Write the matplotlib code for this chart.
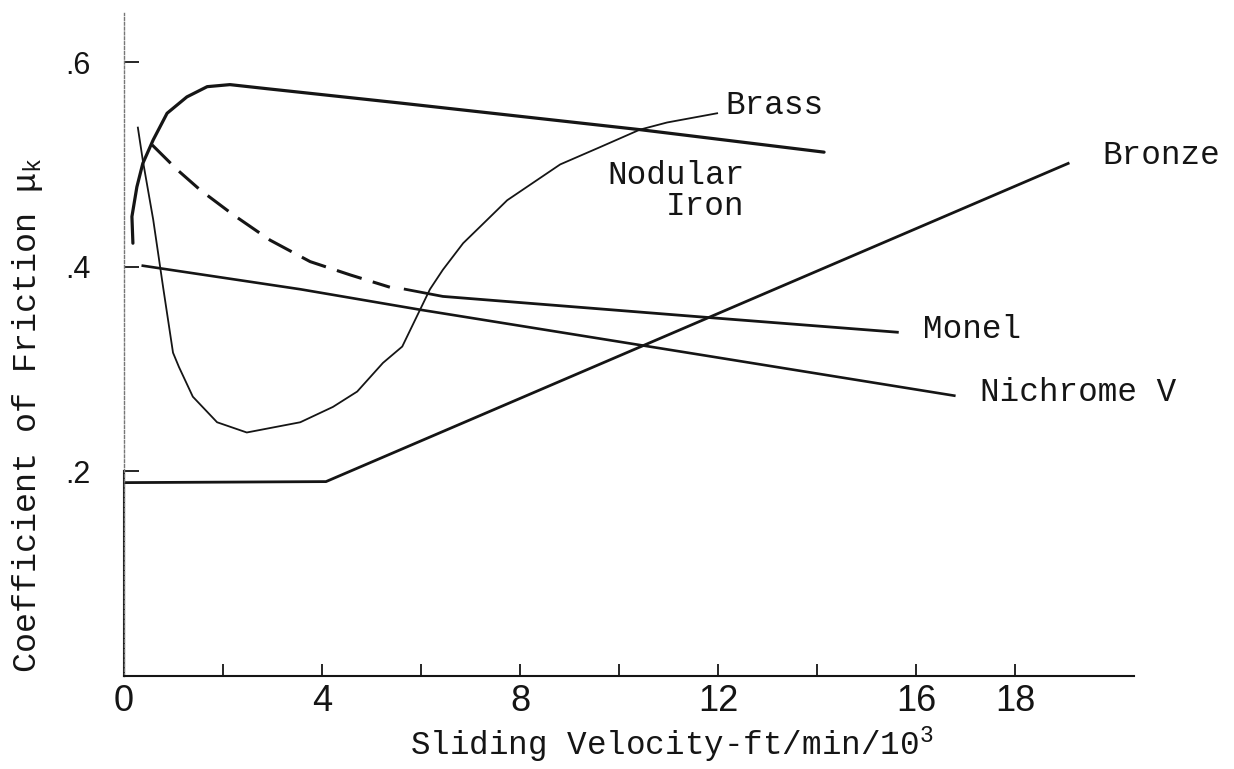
import matplotlib
matplotlib.use('Agg')
import matplotlib.pyplot as plt

# sliding velocity (ft/min / 1000) vs coefficient of friction
brass_x = [0.28, 0.38, 0.59, 0.79, 0.99, 1.11, 1.39, 1.88, 2.48, 3.56, 4.22, 4.71, 5.23,
           5.62, 5.98, 6.18, 6.44, 6.85, 7.19, 7.74, 8.81, 9.62, 10.42, 10.97, 11.98]
brass_y = [0.536, 0.504, 0.446, 0.380, 0.316, 0.302, 0.273, 0.248, 0.238, 0.248, 0.263, 0.278, 0.306,
           0.322, 0.358, 0.378, 0.397, 0.423, 0.439, 0.465, 0.500, 0.517, 0.534, 0.541, 0.550]

nodular_x = [0.18, 0.16, 0.26, 0.38, 0.59, 0.87, 1.27, 1.68, 2.14, 2.89, 5.58, 10.42, 14.14]
nodular_y = [0.423, 0.449, 0.478, 0.501, 0.524, 0.550, 0.566, 0.576, 0.578, 0.574, 0.560, 0.534, 0.512]

monel_dash_x = [0.57, 1.07, 1.54, 2.20, 2.95, 3.76, 4.57, 5.37]
monel_dash_y = [0.519, 0.495, 0.475, 0.451, 0.426, 0.405, 0.392, 0.380]
monel_x = [5.68, 6.44, 11.64, 15.62]
monel_y = [0.378, 0.371, 0.351, 0.336]

nichrome_x = [0.38, 3.56, 5.98, 11.64, 16.77]
nichrome_y = [0.401, 0.378, 0.358, 0.314, 0.274]

bronze_x = [0.0, 4.08, 19.07]
bronze_y = [0.189, 0.190, 0.501]

x_ticks = [0, 2, 4, 6, 8, 10, 12, 14, 16, 18]
x_tick_labels = ['0', '', '4', '', '8', '', '12', '', '16', '18']
y_ticks = [0.2, 0.4, 0.6]
y_tick_labels = ['.2', '.4', '.6']

# curve names and where they are written (data coords, left edge / centre)
names = ['Brass', 'Nodular\nIron', 'Bronze', 'Monel', 'Nichrome V']
name_x = [12.14, 9.76, 19.76, 16.14, 17.29]
name_y = [0.558, 0.474, 0.509, 0.339, 0.277]

plt.rcParams['font.family'] = ['Liberation Mono', 'DejaVu Sans Mono']
plt.rcParams['mathtext.fontset'] = 'custom'
plt.rcParams['mathtext.rm'] = 'Liberation Mono'
plt.rcParams['mathtext.it'] = 'Liberation Mono'

fig = plt.figure(figsize=(12.34, 7.69), dpi=100)
ax = fig.add_axes([124 / 1234, 93 / 769, 1010 / 1234, 663 / 769])

ink = '#151515'
ax.plot(brass_x, brass_y, color=ink, lw=1.3)
ax.plot(nodular_x, nodular_y, color=ink, lw=2.3, solid_capstyle='round')
ax.plot(monel_dash_x, monel_dash_y, color=ink, lw=2.2, linestyle=(0, (8.5, 3.8)))
ax.plot(monel_x, monel_y, color=ink, lw=2.0)
ax.plot(nichrome_x, nichrome_y, color=ink, lw=1.9)
ax.plot(bronze_x, bronze_y, color=ink, lw=2.0)

for n, tx, ty in zip(names, name_x, name_y):
    ax.text(tx, ty, n, fontsize=23.5, color=ink, ha='left', va='center',
            multialignment='right', linespacing=1.0)

ax.set_xlim(0, 20.4)
ax.set_ylim(0, 0.648)
ax.spines['top'].set_visible(False)
ax.spines['right'].set_visible(False)
# left axis: solid up to .2, faint dotted above, as on the drawing
ax.spines['left'].set_linewidth(1.0)
ax.spines['left'].set_color('#777777')
ax.spines['left'].set_linestyle((0, (2, 1.5)))
ax.axvline(0, ymin=0, ymax=0.2 / 0.648, color=ink, lw=1.5, clip_on=False)
ax.spines['bottom'].set_linewidth(1.5)
ax.spines['bottom'].set_color(ink)

ax.set_xticks(x_ticks)
ax.set_xticklabels(x_tick_labels)
ax.set_yticks(y_ticks)
ax.set_yticklabels(y_tick_labels)
ax.tick_params(axis='x', direction='in', length=9, width=1.3, pad=6, colors=ink)
ax.tick_params(axis='y', direction='in', length=11, width=1.3, pad=24, colors=ink)
for t in ax.get_xticklabels():
    t.set_family(['Liberation Sans Narrow', 'Liberation Sans'])
    t.set_fontsize(26)
for t in ax.get_yticklabels():
    t.set_family(['Liberation Sans Narrow', 'Liberation Sans'])
    t.set_fontsize(22)

fig.text(28 / 1234, 1 - 415 / 769, 'Coefficient of Friction $\\mu_k$', rotation=90,
         ha='center', va='center', fontsize=24, color=ink)
fig.text(672 / 1234, 1 - 745 / 769, 'Sliding Velocity-ft/min/10$^3$',
         ha='center', va='center', fontsize=23.5, color=ink)

fig.savefig('out.png', dpi=100, facecolor='white')
